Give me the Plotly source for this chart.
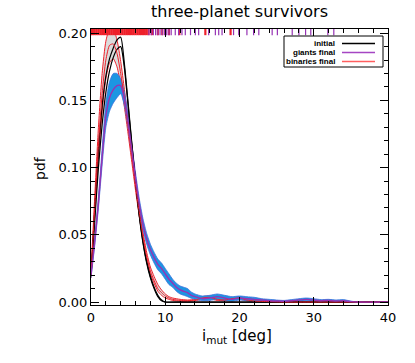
import plotly.graph_objects as go

# ---------------- data ----------------
init_x = [0, 0.5, 1, 1.5, 2, 2.5, 3, 3.5, 4, 4.5, 5, 5.5, 6, 6.5, 7, 7.5, 8, 8.5, 9, 9.5, 10, 12, 40]
init_hi = [0.020, 0.068, 0.113, 0.146, 0.168, 0.181, 0.189, 0.195, 0.197, 0.177,
           0.148, 0.118, 0.090, 0.065, 0.045, 0.030, 0.019, 0.011, 0.005, 0.0015, 0.0, 0.0, 0.0]
init_lo = [0.020, 0.060, 0.100, 0.132, 0.156, 0.172, 0.182, 0.188, 0.190, 0.174,
           0.146, 0.117, 0.089, 0.064, 0.044, 0.029, 0.018, 0.010, 0.004, 0.001, 0.0, 0.0, 0.0]

bin_x = [0, 0.5, 1, 1.5, 2, 2.5, 3, 3.5, 4, 4.5, 5, 5.5, 6, 6.5, 7, 7.5, 8, 8.5, 9, 9.5,
         10, 10.5, 11, 12, 13, 14, 15, 16, 17, 18, 19, 20, 21, 22, 23, 24, 26, 30, 40]
bin_hi = [0.022, 0.078, 0.130, 0.170, 0.194, 0.203, 0.203, 0.195, 0.179, 0.158,
          0.136, 0.113, 0.091, 0.070, 0.052, 0.037, 0.026, 0.019, 0.013, 0.009,
          0.006, 0.004, 0.003, 0.002, 0.0015, 0.002, 0.004, 0.0045, 0.003, 0.002,
          0.003, 0.0035, 0.002, 0.001, 0.0008, 0.0005, 0.0, 0.0, 0.0]
bin_mid = [0.020, 0.070, 0.117, 0.155, 0.180, 0.191, 0.192, 0.185, 0.170, 0.151,
           0.130, 0.108, 0.087, 0.067, 0.049, 0.034, 0.023, 0.016, 0.010, 0.007,
           0.0045, 0.003, 0.002, 0.0012, 0.001, 0.0015, 0.003, 0.0035, 0.002, 0.0015,
           0.0025, 0.003, 0.0015, 0.0008, 0.0005, 0.0003, 0.0, 0.0, 0.0]
bin_lo = [0.018, 0.063, 0.106, 0.142, 0.166, 0.178, 0.181, 0.175, 0.162, 0.145,
          0.125, 0.104, 0.083, 0.064, 0.046, 0.032, 0.021, 0.014, 0.008, 0.005,
          0.003, 0.002, 0.0012, 0.0006, 0.0005, 0.001, 0.002, 0.0025, 0.0012, 0.001,
          0.0018, 0.002, 0.001, 0.0004, 0.0002, 0.0001, 0.0, 0.0, 0.0]

gi_x = [0, 0.5, 1, 1.5, 2, 2.5, 3, 3.5, 4, 4.5, 5, 5.5, 6, 6.5, 7, 7.5, 8, 8.5, 9, 9.5,
        10, 10.5, 11, 11.5, 12, 12.5, 13, 13.5, 14, 15, 16, 17, 18, 19, 20, 21, 22, 23,
        24, 25, 26, 27, 28, 29, 30, 31, 32, 33, 34, 35, 36, 40]
gi_mid = [0.020, 0.045, 0.074, 0.108, 0.138, 0.152, 0.158, 0.161, 0.161, 0.151,
          0.134, 0.113, 0.092, 0.073, 0.058, 0.047, 0.039, 0.033, 0.028, 0.025,
          0.021, 0.017, 0.014, 0.011, 0.009, 0.008, 0.007, 0.005, 0.004,
          0.0025, 0.003, 0.004, 0.003, 0.002, 0.003, 0.0025, 0.002, 0.0015, 0.001,
          0.0008, 0.0006, 0.001, 0.0015, 0.002, 0.0015, 0.001, 0.0012, 0.0008, 0.001,
          0.0003, 0.0, 0.0]
gi_hi = [0.022, 0.048, 0.078, 0.114, 0.148, 0.164, 0.170, 0.170, 0.166, 0.156,
         0.139, 0.117, 0.096, 0.077, 0.062, 0.051, 0.043, 0.037, 0.032, 0.029,
         0.025, 0.021, 0.017, 0.014, 0.012, 0.011, 0.010, 0.0075, 0.006,
         0.0045, 0.005, 0.006, 0.005, 0.004, 0.0045, 0.004, 0.0035, 0.0025, 0.002,
         0.0015, 0.0012, 0.0018, 0.0025, 0.003, 0.0025, 0.0018, 0.002, 0.0015, 0.0018,
         0.0007, 0.0, 0.0]
gi_lo = [0.018, 0.042, 0.070, 0.102, 0.130, 0.142, 0.148, 0.152, 0.155, 0.146,
         0.129, 0.109, 0.088, 0.069, 0.054, 0.043, 0.035, 0.029, 0.024, 0.021,
         0.017, 0.013, 0.011, 0.008, 0.006, 0.005, 0.004, 0.0028, 0.002,
         0.001, 0.0012, 0.002, 0.0012, 0.0006, 0.0015, 0.001, 0.0006, 0.0005, 0.0002,
         0.0, 0.0, 0.0002, 0.0006, 0.001, 0.0006, 0.0002, 0.0004, 0.0002, 0.0003,
         0.0, 0.0, 0.0]

# rug (individual systems) along the top
bin_rug = [0.0, 0.25, 0.5, 0.75, 1.0, 1.25, 1.5, 1.75, 2.0, 2.25, 2.5, 2.75, 3.0, 3.25,
           3.5, 3.75, 4.0, 4.25, 4.5, 4.75, 5.0, 5.25, 5.5, 5.75, 6.0, 6.25, 6.5, 6.75,
           7.0, 7.25, 7.5, 7.75, 8.2, 9.0, 9.6, 10.5, 11.9, 15.4, 18.8]
gi_rug = [7.8, 8.1, 8.4, 8.7, 9.0, 9.3, 9.6, 9.9, 10.2, 10.5, 10.8, 11.35, 11.8, 12.25,
          12.7, 13.4, 14.05, 14.5, 15.85, 16.75, 17.2, 17.65, 19.2, 19.9, 21.0, 21.9,
          22.6, 24.4, 25.1, 27.1, 28.0, 28.9, 29.6, 31.9, 32.7]

legend_labels = ["initial", "giants final", "binaries final"]

# ---------------- styles ----------------
RED = "rgb(238,32,42)"
PURPLE = "rgb(150,50,180)"
BLUE = "rgb(28,150,226)"
GREY = "rgb(220,220,220)"
RUG_Y = (0.1985, 0.2035)

fig = go.Figure()

def band(x, lo, hi, fill, edge, w):
    fig.add_trace(go.Scatter(x=x, y=lo, mode="lines", line=dict(color=edge, width=w, shape="spline", smoothing=0.6),
                             showlegend=False, hoverinfo="skip"))
    fig.add_trace(go.Scatter(x=x, y=hi, mode="lines", fill="tonexty", fillcolor=fill,
                             line=dict(color=edge, width=w, shape="spline", smoothing=0.6),
                             showlegend=False, hoverinfo="skip"))

def line(x, y, color, w):
    fig.add_trace(go.Scatter(x=x, y=y, mode="lines", line=dict(color=color, width=w, shape="spline", smoothing=0.6),
                             showlegend=False, hoverinfo="skip"))

band(bin_x, bin_lo, bin_hi, GREY, RED, 1)
band(gi_x, gi_lo, gi_hi, BLUE, "rgb(60,110,220)", 0.8)
line(init_x, init_lo, "black", 1.2)
line(init_x, init_hi, "black", 1.2)
line(bin_x, bin_mid, RED, 1)
line(gi_x, gi_mid, PURPLE, 1.4)

def rug(vals, color, w):
    xs, ys = [], []
    for v in vals:
        xs += [v, v, None]
        ys += [RUG_Y[0], RUG_Y[1], None]
    fig.add_trace(go.Scatter(x=xs, y=ys, mode="lines", line=dict(color=color, width=w),
                             showlegend=False, hoverinfo="skip"))

rug(bin_rug, RED, 2.2)
rug(gi_rug, PURPLE, 1.2)

# ---------------- layout ----------------
W, H = 415, 363
L, R, T, B = 91, 27, 29, 58
pw, ph = W - L - R, H - T - B

axis_common = dict(showline=True, linecolor="black", linewidth=1, mirror="allticks",
                   ticks="inside", ticklen=8, tickwidth=1, tickcolor="black",
                   showgrid=False, zeroline=False, automargin=False,
                   tickfont=dict(family="DejaVu Sans", size=13, color="black"))

fig.update_layout(
    width=W, height=H,
    margin=dict(l=L, r=R, t=T, b=B, autoexpand=False),
    paper_bgcolor="white", plot_bgcolor="white",
    showlegend=False,
    xaxis=dict(range=[0, 40], tickvals=[0, 10, 20, 30, 40],
               minor=dict(dtick=2, ticks="inside", ticklen=4, tickcolor="black"),
               **axis_common),
    yaxis=dict(range=[-0.0022, 0.2031], tickvals=[0, 0.05, 0.10, 0.15, 0.20],
               tickformat=".2f",
               minor=dict(dtick=0.01, ticks="inside", ticklen=4, tickcolor="black"),
               **axis_common),
)

def px_x(p):
    return (p - L) / pw

def px_y(p):
    return (H - B - p) / ph

annos = [
    dict(text="three-planet survivors", x=px_x(239), y=px_y(12), font=dict(family="DejaVu Sans", size=16)),
    dict(text="pdf", x=px_x(40), y=px_y(168), textangle=-90, font=dict(family="DejaVu Sans", size=14)),
    dict(text="i<sub>mut</sub> [deg]", x=px_x(237), y=px_y(336), font=dict(family="DejaVu Sans", size=15)),
]
for a in annos:
    fig.add_annotation(xref="paper", yref="paper", showarrow=False, xanchor="center", yanchor="middle",
                       font_color="black", **a)

# legend box
fig.add_shape(type="rect", xref="paper", yref="paper", x0=px_x(284), x1=px_x(383), y0=px_y(67), y1=px_y(36),
              line=dict(color="black", width=1), fillcolor="white", layer="above")
leg_colors = ["black", "rgb(165,70,195)", "rgb(255,95,95)"]
leg_y = [43.5, 52.5, 61.5]
for lab, col, yy in zip(legend_labels, leg_colors, leg_y):
    fig.add_annotation(xref="paper", yref="paper", x=px_x(337), y=px_y(yy), xanchor="right", yanchor="middle",
                       text="<b>" + lab + "</b>", showarrow=False,
                       font=dict(family="Liberation Sans", size=8, color="black"))
    fig.add_shape(type="line", xref="paper", yref="paper", x0=px_x(342), x1=px_x(375), y0=px_y(yy), y1=px_y(yy),
                  line=dict(color=col, width=1.3), layer="above")

fig.write_html("out.html", config={"displayModeBar": False},
               post_script="document.body.style.margin='0';document.body.style.padding='0';")
